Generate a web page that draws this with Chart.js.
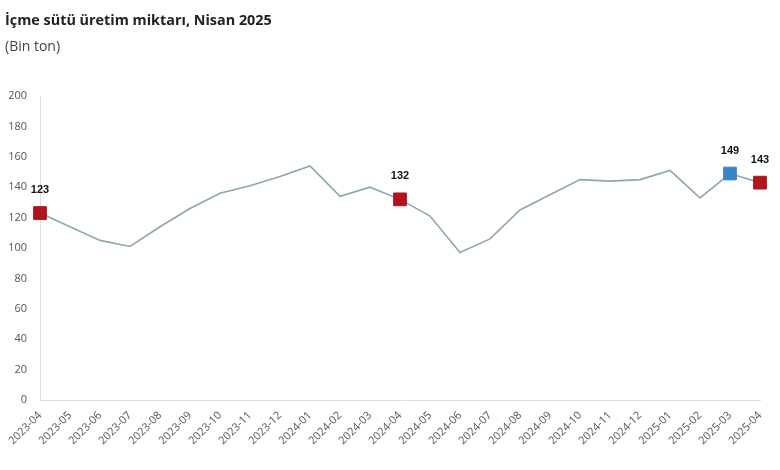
<!DOCTYPE html>
<html>
<head>
<meta charset="utf-8">
<script src="https://cdn.jsdelivr.net/npm/chart.js@4.4.1/dist/chart.umd.min.js"></script>
<style>
  html, body { margin: 0; padding: 0; background: #fff; }
  #wrap { position: relative; width: 780px; height: 470px; }
  #title { position: absolute; left: 5px; top: 10px; font: bold 14.4px "Open Sans", sans-serif; color: #222; }
  #subtitle { position: absolute; left: 5px; top: 36px; font: 14px "Open Sans", sans-serif; color: #444; }
  canvas { position: absolute; left: 0; top: 0; }
</style>
</head>
<body>
<div id="wrap">
  <canvas id="chart" width="780" height="470"></canvas>
  <div id="title">İçme sütü üretim miktarı, Nisan 2025</div>
  <div id="subtitle">(Bin ton)</div>
</div>
<script>
var months = [
    '2023-04', '2023-05', '2023-06', '2023-07', '2023-08', '2023-09', '2023-10',
    '2023-11', '2023-12', '2024-01', '2024-02', '2024-03', '2024-04', '2024-05',
    '2024-06', '2024-07', '2024-08', '2024-09', '2024-10', '2024-11', '2024-12',
    '2025-01', '2025-02', '2025-03', '2025-04'
];
var production = [
    123, 114, 105, 101, 114, 126, 136,
    141, 147, 154, 134, 140, 132, 121,
    97, 106, 125, 135, 145, 144, 145,
    151, 133, 149, 143
];
// months that get a marker and a value label
var highlighted = ['2023-04', '2024-04', '2025-03', '2025-04'];
var yTicks = [0, 20, 40, 60, 80, 100, 120, 140, 160, 180, 200];

var RED = '#b0141c';
var BLUE = '#3a85c6';

var pointColors = months.map(function (m) {
    return m === '2025-03' ? BLUE : RED;
});
var pointSizes = months.map(function (m) {
    return highlighted.indexOf(m) >= 0 ? 9 : 0;
});

var valueLabels = {
    id: 'valueLabels',
    afterDatasetsDraw: function (chart) {
        var ctx = chart.ctx;
        var meta = chart.getDatasetMeta(0);
        ctx.save();
        ctx.font = 'bold 11px "Liberation Sans", Arial, sans-serif';
        ctx.fillStyle = '#111';
        ctx.textAlign = 'center';
        ctx.textBaseline = 'middle';
        months.forEach(function (m, i) {
            if (highlighted.indexOf(m) < 0) {
                return;
            }
            var pt = meta.data[i];
            ctx.fillText(String(production[i]), pt.x, pt.y - 23);
        });
        ctx.restore();
    }
};

new Chart(document.getElementById('chart'), {
    type: 'line',
    data: {
        labels: months,
        datasets: [{
            data: production,
            borderColor: '#8ea6ad',
            borderWidth: 1.6,
            tension: 0,
            pointStyle: 'rect',
            pointRadius: pointSizes,
            pointHoverRadius: pointSizes,
            pointBackgroundColor: pointColors,
            pointBorderColor: pointColors,
            pointBorderWidth: 1
        }]
    },
    options: {
        responsive: false,
        animation: false,
        layout: { padding: { top: 96, right: 20, left: 0, bottom: 0 } },
        plugins: {
            legend: { display: false },
            tooltip: { enabled: false }
        },
        scales: {
            x: {
                offset: false,
                grid: { display: false, drawTicks: false },
                border: { display: true, color: '#dedede', width: 1 },
                ticks: {
                    autoSkip: false,
                    maxRotation: 45,
                    minRotation: 45,
                    padding: 9,
                    color: '#555',
                    font: { family: '"Open Sans", sans-serif', size: 11 }
                },
                afterFit: function (s) { s.height = 70; }
            },
            y: {
                min: 0,
                max: 200,
                afterBuildTicks: function (s) {
                    s.ticks = yTicks.map(function (v) { return { value: v }; });
                },
                grid: { display: false, drawTicks: false },
                border: { display: true, color: '#dedede', width: 1 },
                ticks: {
                    padding: 13,
                    color: '#555',
                    font: { family: '"Open Sans", sans-serif', size: 11 }
                },
                afterFit: function (s) { s.width = 40; }
            }
        }
    },
    plugins: [valueLabels]
});
</script>
</body>
</html>
